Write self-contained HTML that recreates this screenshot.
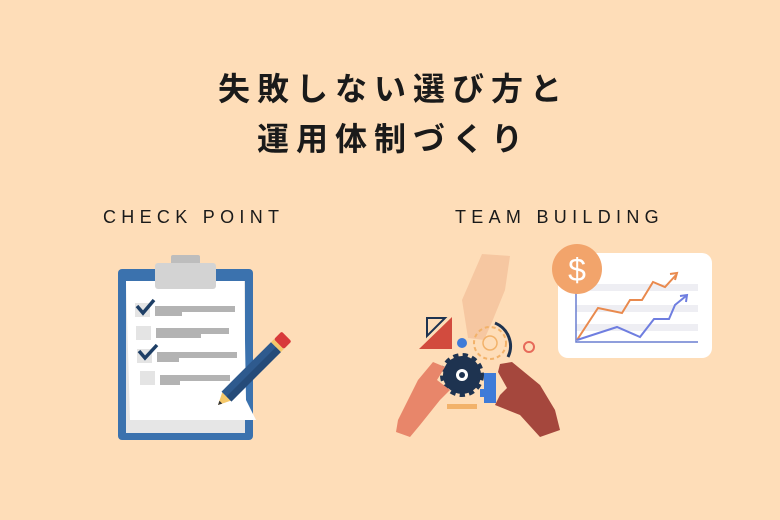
<!DOCTYPE html>
<html><head><meta charset="utf-8"><style>
body{margin:0;background:#FEDDB8;}
.w{position:relative;width:780px;height:520px;overflow:hidden;background:#FEDDB8;font-family:"Liberation Sans","Noto Sans CJK JP",sans-serif;color:#1a1a1a}
.t{position:absolute;left:0;width:780px;text-align:center;font-size:32px;font-weight:bold;letter-spacing:7px;text-indent:7px}
.l{position:absolute;font-size:18px;letter-spacing:5.3px;font-weight:500}
</style></head><body><div class="w">
<div class="t" style="top:64px">失敗しない選び方と</div>
<div class="t" style="top:114px">運用体制づくり</div>
<div class="l" style="left:103px;top:207px">CHECK POINT</div>
<div class="l" style="left:455px;top:207px">TEAM BUILDING</div>
<svg width="780" height="520" style="position:absolute;left:0;top:0">
<rect x="118" y="269" width="135" height="171" rx="4" fill="#3B72AE"/>
<rect x="126" y="281" width="119" height="152" fill="#E6E6E6"/>
<path d="M126 281 L244 281 L246 400 L256 420 L130 420 Q128 350 126 281Z" fill="#fff"/>
<rect x="171" y="255" width="29" height="10" rx="2" fill="#BDBDBD"/>
<rect x="155" y="263" width="61" height="26" rx="3" fill="#D3D3D3"/>
<g fill="#B3B3B3">
<rect x="155" y="306" width="80" height="6"/><rect x="155" y="310" width="27" height="6"/>
<rect x="156" y="328" width="73" height="6"/><rect x="156" y="332" width="45" height="6"/>
<rect x="157" y="352" width="80" height="6"/><rect x="157" y="356" width="22" height="6"/>
<rect x="160" y="375" width="70" height="6"/><rect x="160" y="379" width="20" height="6"/>
</g>
<g fill="#E4E4E4"><rect x="135" y="303" width="15" height="14"/><rect x="136" y="326" width="15" height="14"/><rect x="137" y="349" width="15" height="14"/><rect x="140" y="371" width="15" height="14"/></g>
<g stroke="#1E3F66" stroke-width="3.5" fill="none"><path d="M137 306 L143 313 L154 300"/><path d="M139 351 L145 358 L157 345"/></g>
<g transform="translate(218,405) rotate(-45)">
<polygon points="0,0 12,-6 12,6" fill="#F5C86A"/>
<rect x="12" y="-7" width="70" height="14" fill="#2E5A8E"/>
<rect x="12" y="0" width="70" height="7" fill="#254B79"/>
<rect x="82" y="-7" width="4" height="14" fill="#F5C86A"/>
<rect x="86" y="-7" width="11" height="14" rx="2" fill="#D83A3A"/>
<polygon points="0,0 4,-2 4,2" fill="#333"/>
</g>
<rect x="558" y="253" width="154" height="105" rx="10" fill="#fff"/>
<g fill="#EEEEF3"><rect x="576" y="284" width="122" height="7"/><rect x="576" y="305" width="122" height="7"/><rect x="576" y="324" width="122" height="7"/></g>
<path d="M576 290 V342 H698" stroke="#6A7FD0" stroke-width="1.5" fill="none"/>
<polyline points="577,340 598,308 622,313 630,300 642,300 653,282 665,287 676,275" stroke="#E98A4E" stroke-width="2" fill="none"/>
<path d="M670 274 L677 273 L675 280" stroke="#E98A4E" stroke-width="2" fill="none"/>
<polyline points="577,340 617,327 640,337 654,319 669,319 675,305 686,296" stroke="#6F7EE0" stroke-width="2" fill="none"/>
<path d="M680 296 L687 295 L686 302" stroke="#6F7EE0" stroke-width="2" fill="none"/>
<circle cx="577" cy="269" r="25" fill="#F2A46B"/>
<text x="577" y="281" text-anchor="middle" font-size="32" fill="#fff" font-family="Liberation Sans">$</text>
<path d="M482 254 L510 256 L505 290 L492 322 L484 340 L468 338 L462 300 Z" fill="#F6C7A1"/>
<polygon points="427,318 445,318 427,336" fill="none" stroke="#1E3350" stroke-width="2"/>
<polygon points="419,349 452,317 452,349" fill="#D24B3E"/>
<circle cx="462" cy="343" r="5" fill="#3E7BD8"/>
<circle cx="490" cy="343" r="16" fill="none" stroke="#F2B26A" stroke-width="2" stroke-dasharray="4 3"/>
<circle cx="490" cy="343" r="7" fill="none" stroke="#F2B26A" stroke-width="1.5"/>
<path d="M495 323 A25 25 0 0 1 508 357" stroke="#1E3350" stroke-width="3" fill="none"/>
<circle cx="529" cy="347" r="5" fill="none" stroke="#E76A5A" stroke-width="2"/>
<circle cx="462" cy="375" r="19" fill="#1E3350" stroke="#1E3350" stroke-width="6" stroke-dasharray="5 4"/>
<circle cx="462" cy="375" r="6" fill="#fff"/>
<circle cx="462" cy="375" r="3" fill="#1E3350"/>
<path d="M484 373 h12 v30 h-12 v-6 h-4 v-8 h4 z" fill="#3E7BD8"/>
<rect x="447" y="404" width="30" height="5" fill="#F2B26A"/>
<path d="M398 420 L418 380 L433 362 L445 367 L437 380 L450 390 L440 400 L420 425 L410 437 L396 432 Z" fill="#E8866A"/>
<path d="M500 364 L512 362 L540 385 L555 410 L560 430 L540 437 L520 415 L495 405 L500 395 L507 388 L498 372 Z" fill="#A5473D"/>
</svg>
</div></body></html>
